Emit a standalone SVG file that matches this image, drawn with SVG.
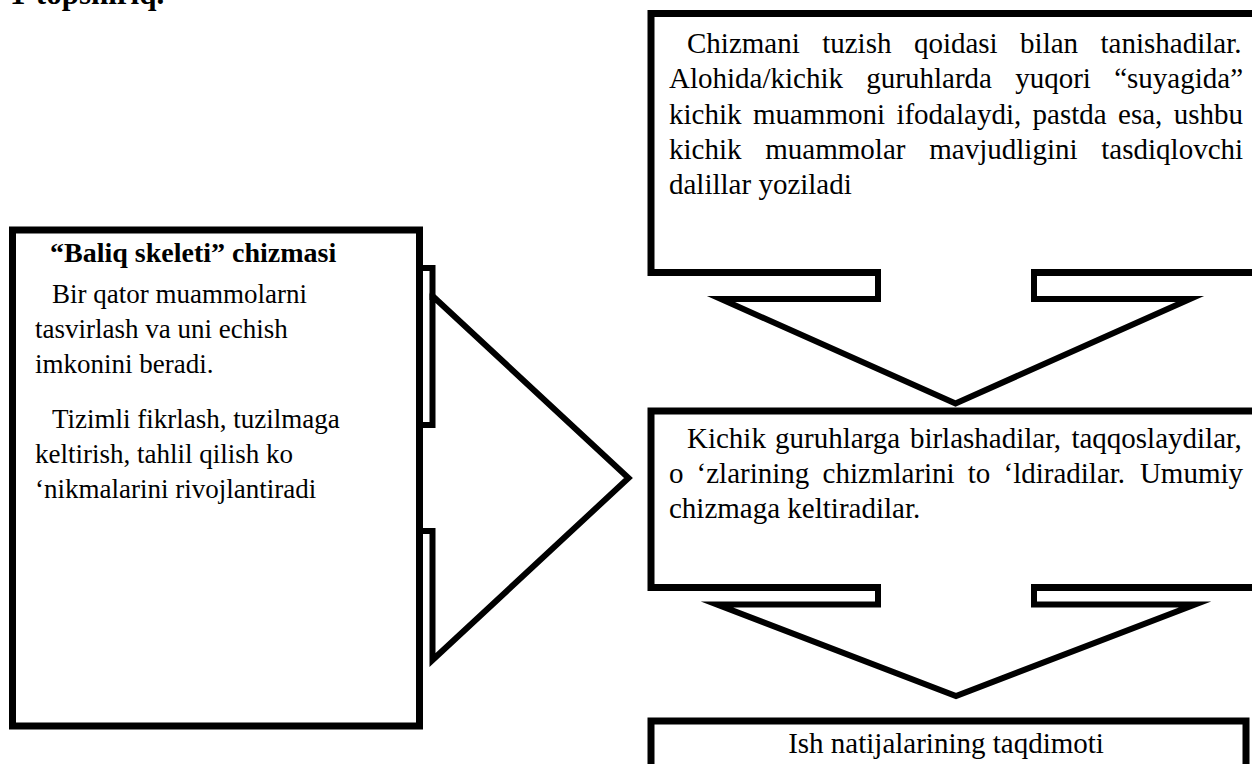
<svg xmlns="http://www.w3.org/2000/svg" width="1252" height="764" viewBox="0 0 1252 764">
<style>
.box{fill:#fff;stroke:#000;stroke-width:7}
.arrow{fill:#fff;stroke:#000;stroke-width:6;stroke-miterlimit:10}
.t{font-family:"Liberation Serif","Times New Roman",serif;font-size:29px;fill:#000}
.l{font-size:27px}
.h{font-size:28px}
.b{font-weight:bold}
</style>
<rect width="1252" height="764" fill="#fff"/>
<text class="t b" x="10" y="4" style="font-size:31px">1-topshiriq.</text>

<g id="connectors">
  <path id="arrow-right" class="arrow" d="M300,425 L432.5,425 L432.5,296 L628.5,478 L432.5,660 L432.5,531 L300,531 Z"/>
  <path class="arrow" fill="none" d="M432.5,300 L432.5,268 L418,268"/>
</g>

<g id="node-left">
  <rect class="box" x="12.5" y="230" width="407" height="496"/>
  <text class="t h b" x="50" y="262">“Baliq skeleti” chizmasi</text>
  <text class="t l" x="52" y="303">Bir qator muammolarni</text>
  <text class="t l" x="35" y="338">tasvirlash va uni echish</text>
  <text class="t l" x="35" y="373">imkonini beradi.</text>
  <text class="t l" x="52" y="428">Tizimli fikrlash, tuzilmaga</text>
  <text class="t l" x="35" y="463">keltirish, tahlil qilish ko</text>
  <text class="t l" x="35" y="498">‘nikmalarini rivojlantiradi</text>
</g>

<g id="node-top">
  <rect class="box" x="651" y="13.5" width="620" height="259"/>
  <text class="t" y="53"><tspan x="687">Chizmani</tspan><tspan x="822.2">tuzish</tspan><tspan x="913.9">qoidasi</tspan><tspan x="1020.1">bilan</tspan><tspan x="1100.5">tanishadilar.</tspan></text>
  <text class="t" y="88"><tspan x="669">Alohida/kichik</tspan><tspan x="866.3">guruhlarda</tspan><tspan x="1015.2">yuqori</tspan><tspan x="1114.2">“suyagida”</tspan></text>
  <text class="t" y="124"><tspan x="669">kichik</tspan><tspan x="752.9">muammoni</tspan><tspan x="896.4">ifodalaydi,</tspan><tspan x="1032.6">pastda</tspan><tspan x="1118.1">esa,</tspan><tspan x="1173.8">ushbu</tspan></text>
  <text class="t" y="159"><tspan x="669">kichik</tspan><tspan x="765.3">muammolar</tspan><tspan x="929.3">mavjudligini</tspan><tspan x="1101.3">tasdiqlovchi</tspan></text>
  <text class="t" x="669" y="194">dalillar yoziladi</text>
</g>

<g id="connectors-down-1">
  <path id="arrow-down-1" class="arrow" d="M878,269 L878,299 L721,299 L955.5,403.5 L1190,299 L1034,299 L1034,269"/>
</g>

<g id="node-middle">
  <rect class="box" x="651" y="411" width="620" height="176.5"/>
  <text class="t" y="448"><tspan x="687">Kichik</tspan><tspan x="775.1">guruhlarga</tspan><tspan x="909.9">birlashadilar,</tspan><tspan x="1071.4">taqqoslaydilar,</tspan></text>
  <text class="t" y="483"><tspan x="669">o</tspan><tspan x="696.6">‘zlarining</tspan><tspan x="822.6">chizmlarini</tspan><tspan x="967.8">to</tspan><tspan x="1003.5">‘ldiradilar.</tspan><tspan x="1139.9">Umumiy</tspan></text>
  <text class="t" x="669" y="518">chizmaga keltiradilar.</text>
</g>

<g id="connectors-down-2">
  <path id="arrow-down-2" class="arrow" d="M878,584 L878,604.5 L717,604.5 L956,696 L1195,604.5 L1034,604.5 L1034,584"/>
</g>

<g id="node-bottom">
  <rect class="box" x="651" y="721" width="595" height="80"/>
  <text class="t" x="946" y="753" text-anchor="middle">Ish natijalarining taqdimoti</text>
</g>
</svg>
